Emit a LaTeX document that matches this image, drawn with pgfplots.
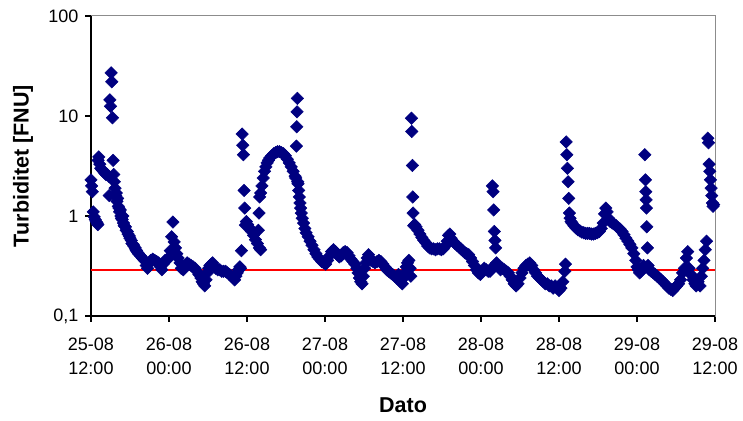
\documentclass[border=0pt]{standalone}
\usepackage{pgfplots}
\pgfplotsset{compat=1.18}
\usepackage{fontspec}
\setmainfont{Liberation Sans}
\definecolor{navy}{RGB}{0,0,128}
\definecolor{refline}{RGB}{255,0,0}
\begin{document}
\begin{tikzpicture}[x=1pt,y=1pt]
\useasboundingbox (0,0) rectangle (743,420);
\begin{axis}[
  at={(91pt,104pt)}, anchor=south west,
  scale only axis, width=624pt, height=300pt,
  xmin=0, xmax=96, ymin=0.1, ymax=100, ymode=log,
  clip=false,
  xtick={0,12,24,36,48,60,72,84,96},
  xticklabels={{25-08\\12:00},{26-08\\00:00},{26-08\\12:00},{27-08\\00:00},{27-08\\12:00},{28-08\\00:00},{28-08\\12:00},{29-08\\00:00},{29-08\\12:00}},
  ytick={0.1,1,10,100},
  yticklabels={{0,1},1,10,100},
  minor ytick={}, minor xtick={},
  log basis y=10,
  xtick pos=bottom, ytick pos=left,
  tick align=outside,
  major tick length=6pt,
  tick style={black, line width=1.2pt},
  axis line style={black!45, line width=1pt},
  /pgf/number format/assume math mode=true,
  tick label style={font=\fontsize{18}{24.5}\selectfont},
  xticklabel style={align=center, yshift=-12pt},
  yticklabel style={xshift=-3pt},
  xlabel={\textbf{Dato}},
  ylabel={\textbf{Turbiditet [FNU]}},
  label style={font=\fontsize{21.5}{24}\selectfont},
  x label style={at={(axis description cs:0.5,-0.297)}, anchor=center},
  y label style={at={(axis description cs:-0.109,0.5)}, anchor=center},
]
\draw[black, line width=1.5pt] (rel axis cs:0,1) -- (rel axis cs:0,0) -- (rel axis cs:1,0);
\addplot[refline, line width=2pt, no markers, forget plot] table {
x y
0 0.29
96 0.29
};
\addplot[only marks, mark=square*, mark size=4.4pt, mark options={rotate=45, fill=navy, draw=navy, line width=0.5pt}] coordinates {
(0.0,2.3)(0.1,2.0)(0.2,1.75)(0.35,1.1)(0.5,0.98)(0.65,0.92)(0.8,0.88)(0.95,0.85)(1.05,0.82)
(1.1,3.6)(1.2,3.9)(1.35,3.3)(1.5,3.0)(1.7,2.9)(1.9,2.8)(2.1,2.7)(2.3,2.6)(2.5,2.6)(2.7,2.5)(2.8,1.6)
(2.9,14.5)(3.0,12.5)(3.1,27)(3.2,22)(3.3,9.6)(3.4,3.6)(3.5,2.6)(3.6,2.2)(3.7,1.9)(3.8,1.6)
(3.9,1.7)(4.1,1.5)(4.3,1.2)(4.5,1.15)(4.7,0.95)(4.9,1.0)(5.1,0.8)(5.4,0.72)(5.7,0.66)(6.0,0.6)(6.3,0.53)(6.6,0.5)(6.9,0.46)(7.2,0.43)
(4.0,1.4)(4.2,1.25)(4.4,1.1)(4.6,1.0)(4.8,0.92)(5.0,0.85)(5.3,0.78)(5.6,0.7)(5.9,0.63)(6.2,0.57)
(6.5,0.52)(6.8,0.48)(7.0,0.45)(7.3,0.42)(7.6,0.40)(7.9,0.38)(8.2,0.36)(8.5,0.32)(8.7,0.30)(8.9,0.33)
(9.2,0.36)(9.5,0.37)(9.8,0.36)(10.1,0.35)(10.4,0.34)(10.7,0.31)(10.9,0.29)(11.1,0.33)(11.4,0.36)
(11.7,0.37)(12.0,0.38)(12.2,0.45)(12.4,0.62)(12.6,0.87)(12.8,0.55)(13.0,0.48)(13.2,0.42)(13.4,0.38)
(13.7,0.34)(13.9,0.30)(14.2,0.29)(14.5,0.32)(14.8,0.34)(15.1,0.33)(15.4,0.32)(15.7,0.31)(16.0,0.30)
(16.3,0.28)(16.6,0.26)(16.9,0.24)(17.1,0.22)(17.3,0.21)(17.5,0.20)(17.7,0.23)(17.9,0.27)(18.1,0.30)
(18.3,0.32)(18.5,0.33)(18.7,0.34)(18.9,0.32)(19.2,0.30)(19.5,0.29)(19.8,0.29)(20.1,0.28)(20.4,0.28)
(20.7,0.28)(21.0,0.27)(21.3,0.26)(21.6,0.25)(21.9,0.24)(22.1,0.23)(22.3,0.25)(22.5,0.27)(22.7,0.29)
(22.9,0.31)(23.0,0.30)(23.15,0.45)(23.25,6.6)(23.35,5.1)(23.45,4.1)(23.55,1.8)(23.65,1.2)(23.75,0.81)
(23.9,0.88)(24.1,0.82)(24.4,0.76)(24.7,0.70)(25.0,0.64)(25.3,0.58)(25.6,0.53)(25.9,0.48)(26.1,0.46)
(25.75,0.72)(25.85,1.07)(25.95,1.55)
(26.1,1.7)(26.3,2.0)(26.5,2.4)(26.7,2.8)(26.9,3.1)(27.1,3.4)(27.3,3.6)(27.5,3.8)(27.8,4.0)(28.1,4.2)
(28.4,4.3)(28.7,4.4)(29.0,4.4)(29.3,4.3)(29.6,4.2)(29.9,4.0)(30.2,3.7)(30.5,3.4)(30.8,3.1)(31.1,2.8)
(31.4,2.5)(31.5,2.4)(31.6,5.0)(31.65,7.8)(31.7,11)(31.75,15)(31.8,2.2)(31.85,2.1)(31.95,1.8)(32.05,1.55)
(32.15,1.35)(32.25,1.2)(32.35,1.07)(32.5,0.95)(32.7,0.85)(32.9,0.75)(33.1,0.68)(33.4,0.62)(33.7,0.56)
(34.0,0.51)(34.3,0.46)(34.6,0.42)(34.9,0.39)(35.2,0.37)(35.5,0.35)(35.8,0.34)(36.1,0.33)(36.4,0.36)
(36.7,0.40)(37.0,0.44)(37.3,0.46)(37.6,0.44)(37.9,0.41)(38.2,0.39)(38.5,0.40)(38.8,0.43)(39.1,0.44)
(39.4,0.43)(39.7,0.40)(40.0,0.37)(40.3,0.35)(40.6,0.33)(40.9,0.30)(41.1,0.27)(41.3,0.24)(41.5,0.22)
(41.7,0.21)(41.9,0.25)(42.1,0.30)(42.3,0.34)(42.5,0.38)(42.7,0.41)(42.9,0.38)(43.1,0.36)(43.4,0.35)
(43.7,0.34)(44.0,0.35)(44.3,0.36)(44.6,0.35)(44.9,0.33)(45.2,0.31)(45.5,0.29)(45.8,0.28)(46.1,0.27)
(46.4,0.26)(46.7,0.25)(47.0,0.24)(47.3,0.26)(47.6,0.22)(47.9,0.21)(48.1,0.24)(48.3,0.27)(48.5,0.31)
(48.7,0.34)(48.9,0.36)(49.1,0.30)(49.2,0.25)(49.3,9.5)(49.35,7.0)(49.45,3.2)(49.5,1.55)(49.55,1.07)
(49.65,0.8)(49.8,0.82)(50.0,0.78)(50.3,0.72)(50.6,0.66)(50.9,0.61)(51.2,0.57)(51.5,0.54)(51.8,0.50)
(52.1,0.48)(52.4,0.47)(52.7,0.47)(53.0,0.46)(53.3,0.47)(53.6,0.47)(53.9,0.46)(54.2,0.47)(54.5,0.50)
(54.8,0.56)(55.0,0.64)(55.2,0.66)(55.4,0.60)(55.7,0.56)(56.0,0.53)(56.3,0.51)(56.6,0.49)(56.9,0.47)
(57.2,0.45)(57.5,0.43)(57.8,0.42)(58.1,0.41)(58.4,0.38)(58.7,0.35)(59.0,0.32)(59.3,0.29)(59.6,0.27)
(59.9,0.26)(60.2,0.28)(60.5,0.30)(60.8,0.29)(61.1,0.28)(61.4,0.28)(61.6,0.30)(61.75,2.0)(61.85,1.75)
(61.95,1.15)(62.05,0.70)(62.15,0.57)(62.25,0.48)(62.4,0.34)(62.7,0.31)(63.0,0.29)(63.3,0.30)(63.6,0.29)
(63.9,0.28)(64.2,0.27)(64.5,0.25)(64.8,0.23)(65.1,0.21)(65.4,0.20)(65.7,0.21)(66.0,0.24)(66.3,0.27)
(66.6,0.30)(66.9,0.32)(67.2,0.33)(67.5,0.34)(67.8,0.32)(68.1,0.29)(68.4,0.27)(68.7,0.25)(69.0,0.24)
(69.3,0.23)(69.6,0.22)(69.9,0.21)(70.2,0.21)(70.5,0.20)(70.8,0.20)(71.1,0.19)(71.4,0.20)(71.7,0.19)
(72.0,0.18)(72.3,0.19)(72.6,0.22)(72.9,0.28)(73.0,0.33)(73.1,5.5)(73.2,4.1)(73.3,3.0)(73.4,2.2)
(73.5,1.5)(73.6,1.07)(73.7,0.95)(73.85,0.88)(74.0,0.85)(74.3,0.80)(74.6,0.76)(74.9,0.73)(75.2,0.71)
(75.5,0.69)(75.8,0.68)(76.1,0.67)(76.4,0.67)(76.7,0.67)(77.0,0.66)(77.3,0.66)(77.6,0.67)(77.9,0.68)
(78.2,0.70)(78.5,0.75)(78.8,0.85)(79.0,1.05)(79.2,1.2)(79.4,1.1)(79.6,0.95)(79.9,0.88)(80.2,0.85)
(80.5,0.83)(80.8,0.80)(81.1,0.76)(81.4,0.74)(81.7,0.70)(82.0,0.65)(82.3,0.60)(82.6,0.56)(82.9,0.52)
(83.2,0.48)(83.5,0.42)(83.8,0.36)(84.0,0.31)(84.2,0.29)(84.4,0.27)(84.6,0.28)(84.8,0.30)(85.0,0.32)
(85.2,4.1)(85.3,2.3)(85.35,1.75)(85.4,1.45)(85.45,1.2)(85.5,0.78)(85.6,0.48)(85.7,0.32)(85.9,0.29)
(86.2,0.28)(86.5,0.27)(86.8,0.26)(87.1,0.25)(87.4,0.24)(87.7,0.23)(88.0,0.22)(88.3,0.21)(88.6,0.20)
(88.9,0.19)(89.2,0.185)(89.5,0.18)(89.8,0.19)(90.1,0.20)(90.4,0.21)(90.7,0.23)(91.0,0.27)(91.3,0.30)
(91.6,0.38)(91.8,0.44)(92.0,0.30)(92.3,0.26)(92.6,0.23)(92.9,0.21)(93.1,0.20)(93.4,0.22)(93.7,0.20)
(93.9,0.25)(94.1,0.30)(94.3,0.36)(94.5,0.46)(94.7,0.56)(94.9,6.0)(95.0,5.4)(95.1,3.3)(95.2,2.8)
(95.3,2.3)(95.4,1.9)(95.5,1.6)(95.6,1.35)(95.7,1.25)(95.8,1.3)
};
\end{axis}
\end{tikzpicture}
\end{document}
